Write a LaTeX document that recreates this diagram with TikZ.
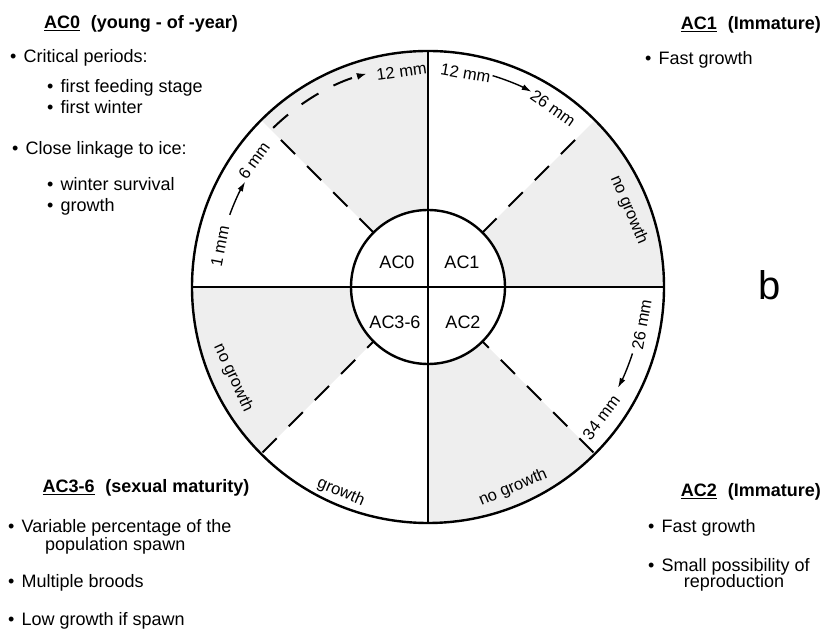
\documentclass[tikz,border=0pt]{standalone}
\usepackage{fontspec}
\setmainfont{Liberation Sans}
\usetikzlibrary{arrows.meta,calc}
\newcommand{\bul}{\textbullet\hspace{0.4em}}
\begin{document}
\begin{tikzpicture}[x=1pt,y=1pt,
  body/.style={font=\fontsize{18}{21}\selectfont, inner sep=0pt, anchor=base west},
  head/.style={font=\fontsize{18}{21}\selectfont\bfseries, inner sep=0pt, anchor=base},
  ring/.style={font=\fontsize{16.5}{19}\selectfont, inner sep=0pt},
  inlab/.style={font=\fontsize{18}{21}\selectfont, inner sep=0pt},
  shadefill/.style={fill=gray!13},
  outline/.style={line width=2.4pt},
  divider/.style={line width=2pt, dash pattern=on 20pt off 17pt},
  arr/.style={line width=1.4pt, -{Latex[length=10pt,width=6pt]}},
]
\useasboundingbox (0,0) rectangle (822,629);
\coordinate (C) at (428,342);
\def\R{236}\def\r{77}
% shaded wedges
\foreach \a in {90,0,270,180} {
  \fill[shadefill] ($(C)+(\a:\r)$) -- ($(C)+(\a:\R)$)
    arc[start angle=\a, delta angle=45, radius=\R]
    -- ($(C)+(\a+45:\r)$) arc[start angle=\a+45, delta angle=-45, radius=\r] -- cycle;
}
% circles
\node[circle, draw, outline, inner sep=0pt, outer sep=0pt, minimum size=472pt] (outer) at (C) {};
\node[circle, draw, outline, inner sep=0pt, outer sep=0pt, minimum size=154pt] (inner) at (C) {};
\draw[outline] (outer.west) -- (outer.east);
\draw[outline] (outer.north) -- (outer.south);
% inner labels
\node[inlab] (lac0) at (397,367) {AC0};
\node[inlab] (lac1) at (462,367) {AC1};
\node[inlab] (lac36) at (395,307) {AC3-6};
\node[inlab] (lac2) at (463,307) {AC2};
% AC0 sector
\node[ring, rotate=8] (a12) at ($(C)+(97:217)$) {12 mm};
\node[ring, rotate=79] (a1) at ($(C)+(169:212)$) {1 mm};
\node[ring, rotate=54] (a6) at ($(C)+(144:215)$) {6 mm};
\draw[arr] ($(C)+(160:211)$) arc[start angle=160, end angle=150, radius=211];
\draw[divider, -{Latex[length=10pt,width=7pt]}] ($(C)+(135:\r)$) -- ($(C)+(135:222)$)
   arc[start angle=135, end angle=106, radius=222];
% AC1 sector
\node[ring, rotate=-10] (b12) at ($(C)+(80:217)$) {12 mm};
\draw[arr] ($(C)+(73:221)$) arc[start angle=73, end angle=62, radius=221];
\node[ring, rotate=-35] (b26) at ($(C)+(55:218)$) {26 mm};
\draw[divider] ($(C)+(45:\r)$) -- ($(C)+(45:220)$);
\node[ring, rotate=-67] (bng) at ($(C)+(21:215)$) {no growth};
% AC2 sector
\node[ring, rotate=80] (c26) at ($(C)+(-10:217)$) {26 mm};
\draw[arr] ($(C)+(-18:215)$) arc[start angle=-18, end angle=-28, radius=215];
\node[ring, rotate=53] (c34) at ($(C)+(-37:217)$) {34 mm};
\draw[divider] ($(C)+(-45:234)$) -- ($(C)+(-45:\r)$);
\node[ring, rotate=23] (cng) at ($(C)+(-67:218)$) {no growth};
% AC3-6 sector
\draw[divider] ($(C)+(225:234)$) -- ($(C)+(225:\r)$);
\node[ring, rotate=-65] (dng) at ($(C)+(205:215)$) {no growth};
\node[ring, rotate=-23] (dg) at ($(C)+(247:223)$) {growth};
% headers
\node[head] (h0) at (141,600) {\underline{AC0}\hspace{0.6em}(young - of -year)};
\node[head, anchor=base east] (h1) at (821,599) {\underline{AC1}\hspace{0.6em}(Immature)};
\node[head] (h3) at (146,136) {\underline{AC3-6}\hspace{0.6em}(sexual maturity)};
\node[head, anchor=base east] (h2) at (821,132) {\underline{AC2}\hspace{0.6em}(Immature)};
% body text
\node[body] (t01) at (10,566) {\bul Critical periods:};
\node[body] (t02) at (47,536) {\bul first feeding stage};
\node[body] (t03) at (47,515) {\bul first winter};
\node[body] (t04) at (12,474) {\bul Close linkage to ice:};
\node[body] (t05) at (47,438) {\bul winter survival};
\node[body] (t06) at (47,417) {\bul growth};
\node[body] (t11) at (645,564) {\bul Fast growth};
\node[body] (t31) at (8,96) {\bul Variable percentage of the};
\node[body] (t32) at (45,78) {population spawn};
\node[body] (t33) at (8,41) {\bul Multiple broods};
\node[body] (t34) at (8,3) {\bul Low growth if spawn};
\node[body] (t21) at (648,96) {\bul Fast growth};
\node[body] (t22) at (648,57) {\bul Small possibility of};
\node[body, anchor=base] (t23) at (734,41) {reproduction};
\node[font=\fontsize{40}{44}\selectfont, anchor=base west, inner sep=0pt] (bb) at (758,329) {b};
\end{tikzpicture}
\end{document}
